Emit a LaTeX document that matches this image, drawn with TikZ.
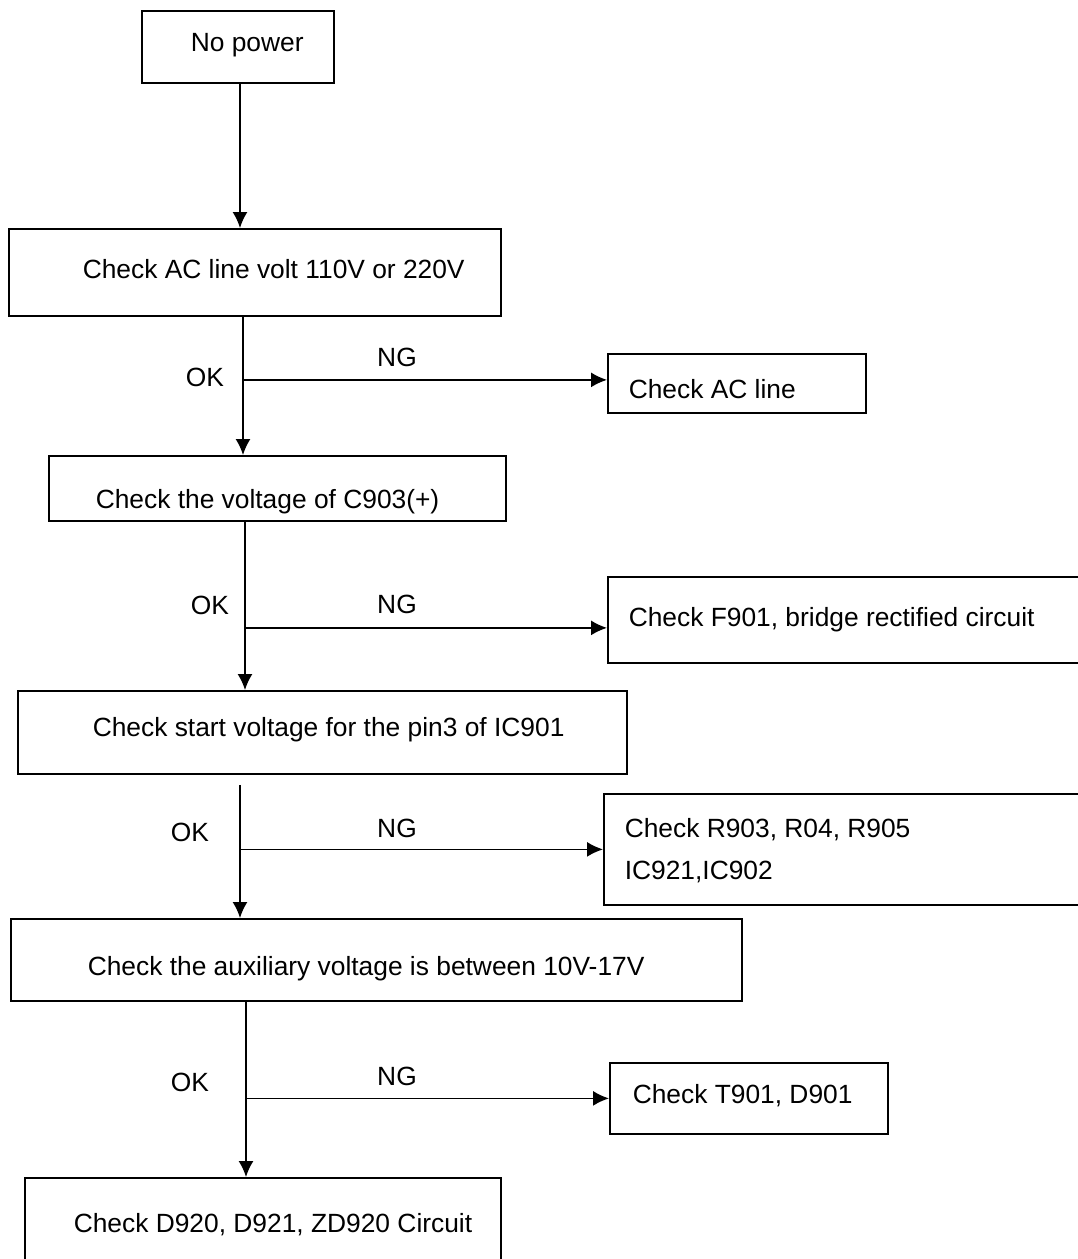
\documentclass[tikz,border=0pt]{standalone}
\usepackage{fontspec}
\setmainfont{Liberation Sans}
\usetikzlibrary{arrows.meta}

\tikzset{
  box/.style={draw,line width=1pt,anchor=north west,inner sep=0pt},
  txt/.style={anchor=west,inner sep=0pt,font=\fontsize{15}{24}\selectfont,align=left},
  lab/.style={inner sep=0pt,font=\fontsize{15}{18}\selectfont},
}

\begin{document}
\begin{tikzpicture}[x=0.02cm,y=-0.02cm,line width=0.9pt,>={Latex[length=0.32cm,width=0.3cm]}]
        \useasboundingbox (0,0) rectangle (1078,1259);
        \clip (0,0) rectangle (1078,1259);
        % main column
        \node[box,minimum width=3.84cm,minimum height=1.44cm] (b1) at (141,10) {};
        \node[box,minimum width=9.84cm,minimum height=1.74cm] (b2) at (8,228) {};
        \node[box,minimum width=9.14cm,minimum height=1.30cm] (b3) at (48,455) {};
        \node[box,minimum width=12.18cm,minimum height=1.66cm] (b4) at (17,690) {};
        \node[box,minimum width=14.62cm,minimum height=1.64cm] (b5) at (10,918) {};
        \node[box,minimum width=9.52cm,minimum height=2.60cm] (b6) at (24,1177) {};
        \node[txt] (t1) at (190,45) {No power};
        \node[txt] (t2) at (82,269) {Check AC line volt 110V or 220V};
        \node[txt] (t3) at (95,502) {Check the voltage of C903(+)};
        \node[txt] (t4) at (92,730) {Check start voltage for the pin3 of IC901};
        \node[txt] (t5) at (87,969) {Check the auxiliary voltage is between 10V-17V};
        \node[txt] (t6) at (73,1225) {Check D920, D921, ZD920 Circuit};
        % side boxes
        \node[box,minimum width=5.16cm,minimum height=1.18cm] (s1) at (607,353) {};
        \node[box,minimum width=10.0cm,minimum height=1.72cm] (s2) at (607,576) {};
        \node[box,minimum width=10.0cm,minimum height=2.22cm] (s3) at (603,793) {};
        \node[box,minimum width=5.56cm,minimum height=1.42cm] (s4) at (609,1062) {};
        \node[txt] (u1) at (628,389) {Check AC line};
        \node[txt] (u2) at (628,620) {Check F901, bridge rectified circuit};
        \node[txt] (u3) at (624,851) {Check R903, R04, R905\\IC921,IC902};
        \node[txt] (u4) at (632,1096) {Check T901, D901};
        % OK / NG labels
        \node[lab] (ok1) at (205,377) {OK};
        \node[lab] (ok2) at (210,605) {OK};
        \node[lab] (ok3) at (190,832) {OK};
        \node[lab] (ok4) at (190,1082) {OK};
        \node[lab] (ng1) at (397,357) {NG};
        \node[lab] (ng2) at (397,604) {NG};
        \node[lab] (ng3) at (397,828) {NG};
        \node[lab] (ng4) at (397,1076) {NG};
        % connector columns
        \coordinate (c1) at (240,0);
        \coordinate (c2) at (243,0);
        \coordinate (c3) at (245,0);
        \coordinate (c4) at (240,0);
        \coordinate (c5) at (246,0);
        \draw[->] (b1.south -| c1) -- (b2.north -| c1);
        \draw[->] (b2.south -| c2) -- (b3.north -| c2);
        \draw[->] (b3.south -| c3) -- (b4.north -| c3);
        \draw[->] (b4.south -| c4) ++(0,10) -- (b5.north -| c4);
        \draw[->] (b5.south -| c5) -- (b6.north -| c5);
        \draw[->] ([yshift=0.07cm]s1.west -| c2) -- ([yshift=0.07cm]s1.west);
        \draw[->] ([yshift=-0.16cm]s2.west -| c3) -- ([yshift=-0.16cm]s2.west);
        \draw[->] (s3.west -| c4) -- (s3.west);
        \draw[->] (s4.west -| c5) -- (s4.west);
\end{tikzpicture}
\end{document}
